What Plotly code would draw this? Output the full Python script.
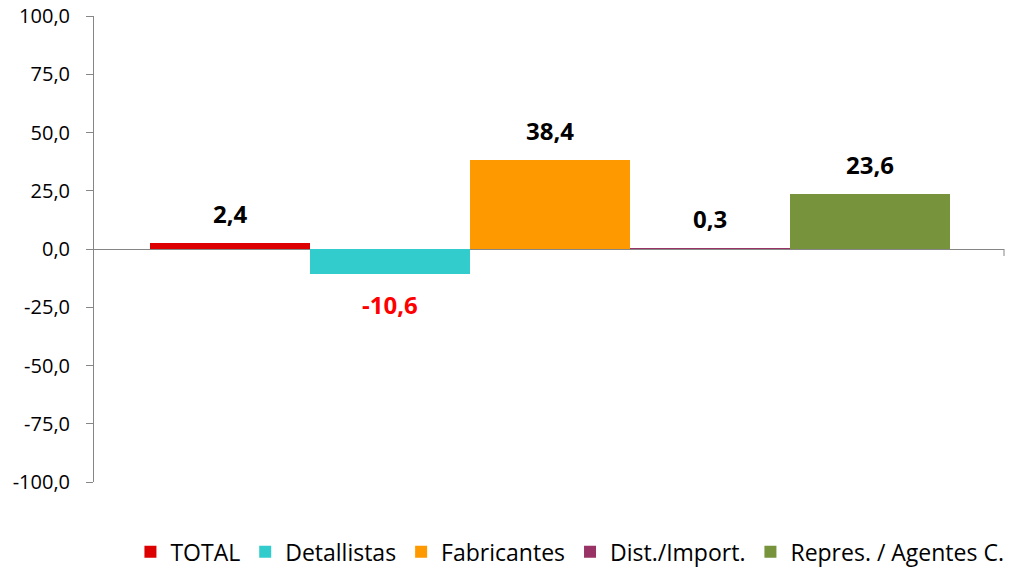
import plotly.graph_objects as go

series = ["TOTAL", "Detallistas", "Fabricantes", "Dist./Import.", "Repres. / Agentes C."]
values = [2.4, -10.6, 38.4, 0.3, 23.6]
colors = ["#DD0000", "#33CCCC", "#FF9900", "#993366", "#77933C"]
label_colors = ["#000000", "#FF0000", "#000000", "#000000", "#000000"]
y_ticks = [-100, -75, -50, -25, 0, 25, 50, 75, 100]
y_ticktext = [f"{t:.1f}".replace(".", ",") for t in y_ticks]

FONT = "Open Sans"
fig = go.Figure()
for i, (name, v, c) in enumerate(zip(series, values, colors)):
    fig.add_trace(go.Bar(x=[i], y=[v], name=name, marker=dict(color=c, line=dict(width=0)),
                         width=1.0, hoverinfo="y+name"))
    txt = f"{v:.1f}".replace(".", ",")
    if v >= 0:
        fig.add_annotation(x=i, y=v, text=f"<b>{txt}</b>", showarrow=False, yanchor="bottom",
                           yshift=11, font=dict(family=FONT, size=24, color=label_colors[i]))
    else:
        fig.add_annotation(x=i, y=v, text=f"<b>{txt}</b>", showarrow=False, yanchor="top",
                           yshift=-12, font=dict(family=FONT, size=24, color=label_colors[i]))

# small tick at the right end of the category axis
fig.add_shape(type="line", xref="paper", yref="y", x0=1, x1=1, y0=0, y1=-7,
              ysizemode="pixel", yanchor=0, line=dict(color="#868686", width=1))

# page body has an 8px margin: figure coordinates are offset by (8, 8)
fig.update_layout(
    width=1036, height=569,
    margin=dict(l=86, r=40, t=8, b=95, autoexpand=False),
    plot_bgcolor="white", paper_bgcolor="white",
    font=dict(family=FONT, size=20, color="#000000"),
    bargap=0, barmode="overlay",
    showlegend=True,
    legend=dict(orientation="h", x=0.523, xanchor="center", y=-0.150, yanchor="middle",
                font=dict(family=FONT, size=23), traceorder="normal"),
    xaxis=dict(range=[-0.85, 4.8375], showticklabels=False, showgrid=False, zeroline=False,
               showline=False, ticks="", automargin=False),
    yaxis=dict(range=[-100, 100], tickvals=y_ticks, ticktext=y_ticktext, showgrid=False,
               zeroline=True, zerolinecolor="#868686", zerolinewidth=1,
               showline=True, linecolor="#868686", linewidth=1, automargin=False,
               ticks="outside", ticklen=7, tickcolor="#868686", ticklabelstandoff=12,
               ticklabeloverflow="allow", tickfont=dict(family=FONT, size=20)),
)
fig.write_html("out.html")
